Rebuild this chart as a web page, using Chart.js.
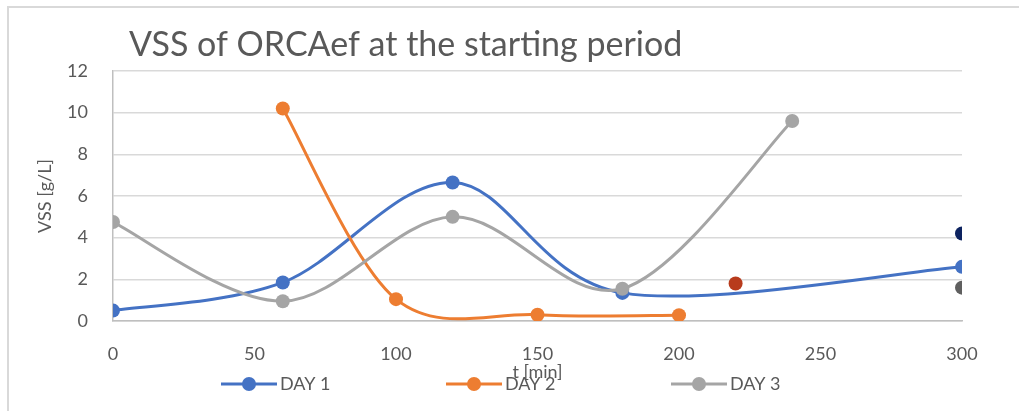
<!DOCTYPE html>
<html>
<head>
<meta charset="utf-8">
<script src="https://cdn.jsdelivr.net/npm/chart.js@4.4.1/dist/chart.umd.min.js"></script>
<style>
  html, body { margin: 0; padding: 0; background: #ffffff; }
  #wrap { width: 1019px; height: 411px; position: relative; }
</style>
</head>
<body>
<div id="wrap"><canvas id="vssChart"></canvas></div>
<script>
// Tempo (min) e VSS (g/L) de cada dia
const day1T = [0, 60, 120, 180, 300];
const day1Vss = [0.5, 1.85, 6.65, 1.35, 2.6];
const day2T = [60, 100, 150, 200];
const day2Vss = [10.2, 1.05, 0.3, 0.28];
const day3T = [0, 60, 120, 180, 240];
const day3Vss = [4.75, 0.95, 5.0, 1.55, 9.6];

// Pontos isolados (sem linha)
const extraT = [220, 300, 300];
const extraVss = [1.8, 4.2, 1.6];
const extraColors = ['#b83b1c', '#0d2360', '#5f5f5f'];

const seriesNames = ['DAY 1', 'DAY 2', 'DAY 3'];
const seriesColors = ['#4472c4', '#ed7d31', '#a5a5a5'];

const xTicks = [0, 50, 100, 150, 200, 250, 300];
const yTicks = [0, 2, 4, 6, 8, 10, 12];

const FONT = 'Lato, "Open Sans", sans-serif';
const TEXT = '#595959';

const toXY = (ts, vs) => ts.map((t, i) => ({ x: t, y: vs[i] }));

function lineSet(idx, ts, vs, order) {
    return {
        label: seriesNames[idx],
        data: toXY(ts, vs),
        borderColor: seriesColors[idx],
        backgroundColor: seriesColors[idx],
        borderWidth: 3,
        tension: 0.4,
        pointRadius: 7,
        pointBorderWidth: 0,
        pointBackgroundColor: seriesColors[idx],
        fill: false,
        order: order,
    };
}

const datasets = [
    lineSet(0, day1T, day1Vss, 3),
    lineSet(1, day2T, day2Vss, 2),
    lineSet(2, day3T, day3Vss, 1),
];
extraT.forEach((t, i) => {
    datasets.push({
        label: 'extra' + i,
        data: [{ x: t, y: extraVss[i] }],
        showLine: false,
        pointRadius: 7,
        pointBorderWidth: 0,
        pointBackgroundColor: extraColors[i],
        backgroundColor: extraColors[i],
        order: 0,
    });
});

// Suavização tipo Catmull-Rom (1/6 do vetor entre vizinhos)
const smoothLines = {
    id: 'smoothLines',
    beforeDatasetDraw(chart, args) {
        const meta = args.meta;
        const line = meta.dataset;
        if (!line || !chart.data.datasets[args.index].tension) return;
        const pts = meta.data;
        const n = pts.length;
        for (let i = 0; i < n; i++) {
            const p0 = pts[Math.max(i - 1, 0)];
            const p1 = pts[i];
            const p2 = pts[Math.min(i + 1, n - 1)];
            const dx = (p2.x - p0.x) / 6;
            const dy = (p2.y - p0.y) / 6;
            p1.cp1x = p1.x - dx; p1.cp1y = p1.y - dy;
            p1.cp2x = p1.x + dx; p1.cp2y = p1.y + dy;
        }
        line._pointsUpdated = true;
        line._path = undefined;
    },
};

// Moldura, título e legenda
const decor = {
    id: 'decor',
    beforeDraw(chart) {
        const ctx = chart.ctx;
        ctx.save();
        ctx.strokeStyle = '#d9d9d9';
        ctx.lineWidth = 2;
        ctx.strokeRect(8, 7, chart.width + 20, chart.height + 20);
        ctx.restore();
    },
    afterDraw(chart) {
        const ctx = chart.ctx;
        ctx.save();
        ctx.fillStyle = TEXT;
        ctx.font = '34px ' + FONT;
        ctx.textBaseline = 'middle';
        ctx.textAlign = 'left';
        ctx.fillText('VSS of ORCAef at the starting period', 129, 45);

        // legenda
        ctx.font = '18px ' + FONT;
        const y = 384;
        seriesNames.forEach((name, i) => {
            const x0 = 221 + i * 225;
            ctx.strokeStyle = seriesColors[i];
            ctx.lineWidth = 3;
            ctx.beginPath();
            ctx.moveTo(x0, y);
            ctx.lineTo(x0 + 56, y);
            ctx.stroke();
            ctx.fillStyle = seriesColors[i];
            ctx.beginPath();
            ctx.arc(x0 + 28, y, 7, 0, Math.PI * 2);
            ctx.fill();
            ctx.fillStyle = TEXT;
            ctx.fillText(name, x0 + 59, y);
        });
        ctx.restore();
    },
};

new Chart(document.getElementById('vssChart').getContext('2d'), {
    type: 'line',
    data: { datasets: datasets },
    plugins: [smoothLines, decor],
    options: {
        responsive: true,
        maintainAspectRatio: false,
        animation: false,
        layout: { padding: { top: 71, right: 57, bottom: 0, left: 0 } },
        plugins: {
            legend: { display: false },
            title: { display: false },
            tooltip: { enabled: false },
        },
        scales: {
            x: {
                type: 'linear',
                min: 0,
                max: 300,
                afterFit: (s) => { s.height = 90; },
                afterBuildTicks: (s) => { s.ticks = xTicks.map(v => ({ value: v })); },
                grid: { display: false, drawTicks: false },
                border: { display: true, color: '#bfbfbf', width: 1.5 },
                ticks: { color: TEXT, padding: 22, maxRotation: 0, font: { size: 18, family: FONT } },
                title: {
                    display: true,
                    text: 't [min]',
                    color: TEXT,
                    padding: { top: 0, bottom: 28 },
                    font: { size: 18, family: FONT },
                },
            },
            y: {
                min: 0,
                max: 12,
                afterFit: (s) => { s.width = 113; },
                afterBuildTicks: (s) => { s.ticks = yTicks.map(v => ({ value: v })); },
                grid: { color: '#d9d9d9', lineWidth: 1.5, drawTicks: false },
                border: { display: true, color: '#bfbfbf', width: 1.5 },
                ticks: { color: TEXT, padding: 25, font: { size: 18, family: FONT } },
                title: {
                    display: true,
                    text: 'VSS [g/L]',
                    color: TEXT,
                    padding: { top: 34, bottom: 0 },
                    font: { size: 18, family: FONT },
                },
            },
        },
    },
});
</script>
</body>
</html>
